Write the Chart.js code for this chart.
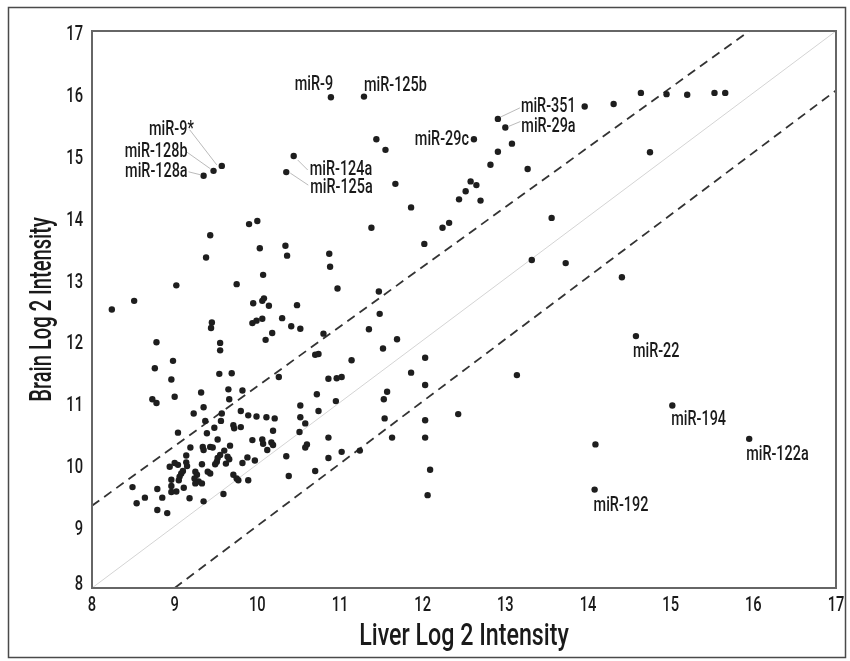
<!DOCTYPE html>
<html>
<head>
<meta charset="utf-8">
<script src="https://cdn.jsdelivr.net/npm/chart.js@4.4.0/dist/chart.umd.min.js"></script>
<style>
  html, body { margin: 0; padding: 0; background: #fff; }
  #wrap { width: 850px; height: 661px; }
</style>
</head>
<body>
<div id="wrap"><canvas id="myChart" width="850" height="661"></canvas></div>
<script>
// unlabelled miRNAs: liver vs brain log2 intensity
const liverX = [
  11.44, 11.55, 11.67, 11.86, 12.58, 12.65, 12.52, 12.44, 12.70, 12.24,
  12.32, 12.02, 11.38, 9.90, 10.00, 9.43, 10.03, 10.34, 10.36, 10.87,
  10.88, 9.38, 13.96, 14.31, 14.64, 14.95, 15.20, 15.53, 15.66, 13.08,
  12.91, 12.82, 13.27, 14.75, 13.56, 13.32, 13.73, 14.41, 13.14, 12.43,
  14.09,
  8.24, 8.51, 9.02, 9.75, 10.07, 9.95, 10.06, 10.08, 10.14, 10.48,
  10.97, 11.47, 11.48, 10.30, 9.94, 9.99, 10.06, 10.41, 10.52, 10.18,
  10.10, 9.45, 9.44, 8.78, 9.55, 9.55, 8.98, 8.76, 8.96, 9.00,
  8.73, 8.78, 9.54, 9.69, 10.80, 11.35, 11.69, 11.52, 10.70, 10.74,
  11.14, 10.26, 10.86, 10.96, 11.02, 12.03, 11.86, 12.03, 11.57, 11.53,
  10.72, 10.95, 10.74, 10.52, 10.52, 10.58, 10.51, 11.54, 12.03, 11.63,
  12.03, 12.09, 12.06, 10.86, 11.02, 11.24, 10.86, 10.70, 10.60, 10.58,
  10.35, 10.38, 10.19, 10.06, 10.07, 10.17, 10.19, 10.12, 9.94, 9.99,
  10.11, 10.21, 9.89, 9.80, 9.82, 9.65, 9.66, 9.32, 9.35, 9.23,
  9.37, 9.57, 9.56, 9.71, 9.72, 9.80, 9.48, 9.39, 9.04, 9.52,
  9.19, 9.34, 9.35, 9.43, 9.46, 9.67, 9.60, 9.55, 9.52, 9.51,
  9.49, 9.64, 9.66, 9.62, 9.88, 9.97, 9.82, 9.14, 9.14, 9.15,
  9.33, 9.00, 9.04, 8.94, 9.40, 9.43, 9.10, 9.08, 9.06, 9.05,
  9.25, 9.27, 9.24, 9.29, 9.25, 9.33, 8.96, 9.71, 9.75, 9.77,
  9.89, 8.96, 9.02, 8.96, 9.11, 8.79, 8.49, 8.85, 8.64, 8.54,
  9.18, 9.35, 9.59, 8.79, 8.91
];
const brainY = [
  15.25, 15.08, 14.53, 14.15, 14.57, 14.51, 14.41, 14.28, 14.26, 13.82,
  13.90, 13.56, 13.82, 13.88, 13.93, 13.70, 13.49, 13.53, 13.37, 13.40,
  13.19, 13.34, 15.78, 15.82, 16.00, 15.98, 15.97, 16.00, 16.00, 15.18,
  15.05, 14.84, 14.77, 15.04, 13.98, 13.30, 13.25, 13.02, 11.44, 10.81,
  10.32,
  12.50, 12.64, 12.89, 12.91, 13.06, 12.60, 12.64, 12.68, 12.56, 12.57,
  12.84, 12.79, 12.43, 12.36, 12.28, 12.32, 12.35, 12.23, 12.19, 12.12,
  12.01, 12.29, 12.20, 11.97, 11.96, 11.84, 11.67, 11.55, 11.37, 11.09,
  11.05, 10.99, 11.46, 11.47, 12.11, 12.18, 12.02, 11.87, 11.77, 11.78,
  11.68, 11.41, 11.38, 11.39, 11.41, 11.72, 11.48, 11.28, 11.17, 11.05,
  11.13, 11.02, 10.86, 10.95, 10.76, 10.66, 10.52, 10.74, 10.71, 10.43,
  10.43, 9.91, 9.50, 10.43, 10.20, 10.22, 10.10, 9.89, 10.32, 10.27,
  10.13, 9.81, 10.54, 10.40, 10.33, 10.35, 10.31, 10.23, 10.39, 10.77,
  10.76, 10.74, 10.79, 10.86, 11.19, 11.21, 11.05, 11.16, 10.92, 10.82,
  10.70, 10.82, 10.70, 10.63, 10.58, 10.60, 10.59, 10.50, 10.51, 10.40,
  10.27, 10.28, 10.23, 10.28, 10.27, 10.30, 10.22, 10.15, 10.10, 10.04,
  10.00, 10.12, 10.08, 10.01, 10.11, 10.06, 10.02, 10.14, 10.03, 9.97,
  10.00, 10.02, 9.99, 9.96, 9.88, 9.85, 9.89, 9.85, 9.80, 9.74,
  9.88, 9.83, 9.77, 9.72, 9.69, 9.69, 9.75, 9.83, 9.77, 9.74,
  9.74, 9.65, 9.56, 9.55, 9.62, 9.60, 9.63, 9.46, 9.46, 9.37,
  9.45, 9.40, 9.52, 9.26, 9.21
];

// named miRNAs
const labelNames = ['miR-9', 'miR-125b', 'miR-9*', 'miR-128b', 'miR-128a', 'miR-124a', 'miR-125a',
  'miR-29c', 'miR-351', 'miR-29a', 'miR-22', 'miR-194', 'miR-122a', 'miR-192'];
const labelLiver = [10.89, 11.29, 9.57, 9.47, 9.35, 10.44, 10.35, 12.62, 12.91, 13.00, 14.58, 15.02, 15.95, 14.08];
const labelBrain = [15.93, 15.94, 14.82, 14.74, 14.66, 14.98, 14.72, 15.25, 15.58, 15.44, 12.07, 10.95, 10.41, 9.59];

// reference lines
const diagX = [8, 17], diagY = [8, 17];
const upperX = [8, 15.95], upperY = [9.33, 17];
const lowerX = [9, 17], lowerY = [8, 16.04];

const axisTicks = [8, 9, 10, 11, 12, 13, 14, 15, 16, 17];
const xTitle = 'Liver Log 2 Intensity';
const yTitle = 'Brain Log 2 Intensity';

const FONT = "Roboto, 'Liberation Sans', sans-serif";

const toPts = (xs, ys) => xs.map((x, i) => ({ x: x, y: ys[i] }));
const allPts = toPts(liverX, brainY).concat(toPts(labelLiver, labelBrain));

// label placement, pixel offsets from the point (text baseline)
const labelLayout = {
  'miR-9':    { dx: -17, dy: -7, align: 'center' },
  'miR-125b': { dx: 0, dy: -6, align: 'left' },
  'miR-9*':   { dx: -28, dy: -31, align: 'right', lead: [-5, -1, -32, -36] },
  'miR-128b': { dx: -26, dy: -14, align: 'right', lead: [-3, -2, -27, -19] },
  'miR-128a': { dx: -16, dy: 1, align: 'right', lead: [-3, -1, -15, -4] },
  'miR-124a': { dx: 16, dy: 19, align: 'left', lead: [4, 4, 14, 14] },
  'miR-125a': { dx: 24, dy: 21, align: 'left', lead: [4, 1, 22, 13] },
  'miR-29c':  { dx: -5, dy: 6, align: 'right' },
  'miR-351':  { dx: 23, dy: -7, align: 'left', lead: [3, -2, 22, -11] },
  'miR-29a':  { dx: 16, dy: 4, align: 'left', lead: [3, -1, 15, -6] },
  'miR-22':   { dx: -3, dy: 21, align: 'left' },
  'miR-194':  { dx: -1, dy: 20, align: 'left' },
  'miR-122a': { dx: -3, dy: 21, align: 'left' },
  'miR-192':  { dx: -1, dy: 21, align: 'left' }
};

// narrow text: the original uses a condensed face, so squeeze horizontally
function narrowText(c, txt, x, y, opt) {
  c.save();
  c.font = (opt.weight || 500) + ' ' + opt.size + 'px ' + FONT;
  c.textAlign = opt.align || 'left';
  c.textBaseline = opt.baseline || 'alphabetic';
  c.translate(x, y);
  if (opt.rot) c.rotate(opt.rot);
  c.scale(opt.sx || 0.8, 1);
  c.fillText(txt, 0, 0);
  c.restore();
}

const framePlugin = {
  id: 'frame',
  beforeDraw(chart) {
    const c = chart.ctx;
    c.save();
    c.fillStyle = '#fff';
    c.fillRect(0, 0, chart.width, chart.height);
    c.strokeStyle = '#4a4a4a';
    c.lineWidth = 1.5;
    c.strokeRect(8.5, 7.5, 837, 650);
    c.restore();
  },
  afterDatasetsDraw(chart) {
    const c = chart.ctx;
    const a = chart.chartArea;
    const xs = chart.scales.x, ys = chart.scales.y;
    c.save();
    c.strokeStyle = '#666';
    c.lineWidth = 2;
    c.strokeRect(a.left, a.top, a.right - a.left, a.bottom - a.top);
    c.fillStyle = '#1a1a1a';

    // tick labels
    axisTicks.forEach(v => {
      narrowText(c, String(v), xs.getPixelForValue(v), a.bottom + 23, { size: 21, align: 'center', sx: 0.7 });
      const py = Math.min(ys.getPixelForValue(v) + 9, a.bottom + 2);
      narrowText(c, String(v), a.left - 9, py, { size: 21, align: 'right', sx: 0.7 });
    });

    // axis titles
    narrowText(c, xTitle, (a.left + a.right) / 2, a.bottom + 57, { size: 31, align: 'center', sx: 0.75 });
    narrowText(c, yTitle, 51, (a.top + a.bottom) / 2, { size: 31, align: 'center', sx: 0.65, rot: -Math.PI / 2 });

    // miRNA names
    labelNames.forEach((name, i) => {
      const px = xs.getPixelForValue(labelLiver[i]);
      const py = ys.getPixelForValue(labelBrain[i]);
      const L = labelLayout[name];
      if (L.lead) {
        c.strokeStyle = '#bbb';
        c.lineWidth = 1;
        c.beginPath();
        c.moveTo(px + L.lead[0], py + L.lead[1]);
        c.lineTo(px + L.lead[2], py + L.lead[3]);
        c.stroke();
      }
      narrowText(c, name, px + L.dx, py + L.dy, { size: 20, align: L.align, sx: 0.72 });
    });
    c.restore();
  }
};

const ctx = document.getElementById('myChart');
new Chart(ctx, {
  type: 'scatter',
  data: {
    datasets: [
      {
        label: 'miRNA',
        data: allPts,
        pointRadius: 3.2,
        pointBackgroundColor: '#1e1e1e',
        pointBorderWidth: 0,
        showLine: false
      },
      {
        label: 'upper',
        data: toPts(upperX, upperY),
        showLine: true,
        borderColor: '#333',
        borderWidth: 1.8,
        borderDash: [9, 6],
        pointRadius: 0
      },
      {
        label: 'lower',
        data: toPts(lowerX, lowerY),
        showLine: true,
        borderColor: '#333',
        borderWidth: 1.8,
        borderDash: [9, 6],
        pointRadius: 0
      },
      {
        label: 'equal',
        data: toPts(diagX, diagY),
        showLine: true,
        borderColor: '#d4d4d4',
        borderWidth: 1,
        pointRadius: 0
      }
    ]
  },
  options: {
    responsive: false,
    animation: false,
    layout: { padding: { top: 31, right: 14, left: 0, bottom: 0 } },
    plugins: {
      legend: { display: false },
      tooltip: { enabled: false }
    },
    scales: {
      x: {
        type: 'linear',
        min: 8,
        max: 17,
        afterBuildTicks: (s) => { s.ticks = axisTicks.map(v => ({ value: v })); },
        afterFit: (s) => { s.height = 73; },
        grid: { display: false, drawTicks: false },
        border: { display: false },
        ticks: { display: false }
      },
      y: {
        type: 'linear',
        min: 8,
        max: 17,
        afterBuildTicks: (s) => { s.ticks = axisTicks.map(v => ({ value: v })); },
        afterFit: (s) => { s.width = 92; },
        grid: { display: false, drawTicks: false },
        border: { display: false },
        ticks: { display: false }
      }
    }
  },
  plugins: [framePlugin]
});
</script>
</body>
</html>
